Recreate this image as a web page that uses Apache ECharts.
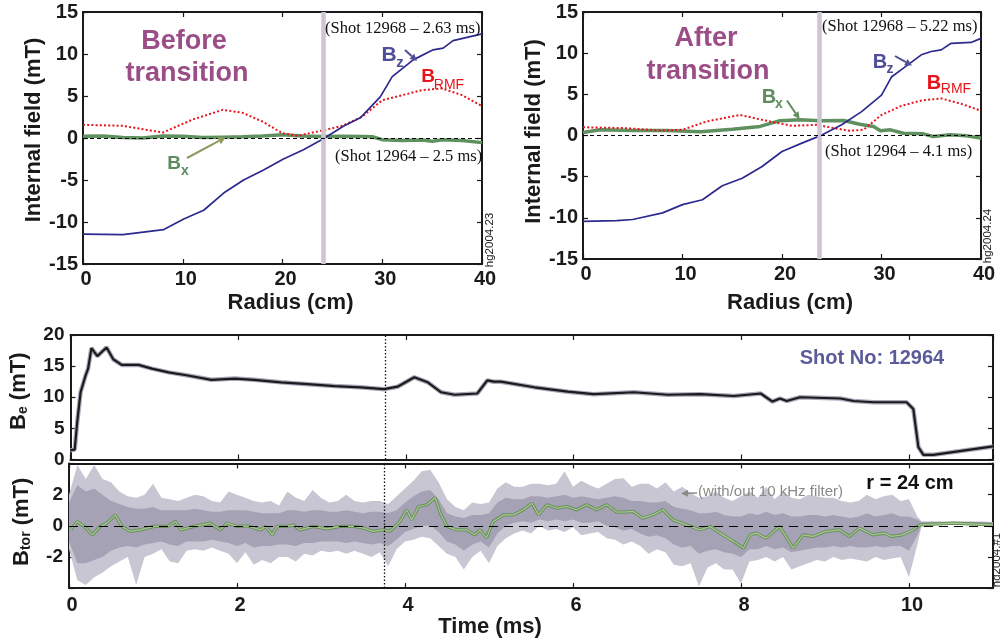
<!DOCTYPE html>
<html><head><meta charset="utf-8">
<script src="https://cdn.jsdelivr.net/npm/echarts/dist/echarts.min.js"></script>
<style>html,body{margin:0;padding:0;background:#fff}#c{width:1000px;height:639px}</style>
</head><body><div id="c"></div>
<script>
// ---- Top-left panel (before transition) ----
const bzR1 = [0,4,8.1,10.1,12.1,14.1,16.1,18.1,20.1,22.1,24.1,26.1,27.8,29.8,31,33.1,35.1,36.1,37.1,40];
const bz1  = [-11.45,-11.5,-10.9,-9.65,-8.6,-6.55,-5.0,-3.8,-2.5,-1.4,-0.1,1.4,2.4,4.9,7.3,9.3,10.5,10.7,11.6,12.4];
const rmfR1 = [0,4,8,11,14,16,18,20,21.5,24,26,28,30,32,34,36,38,40];
const rmf1  = [1.57,1.45,0.65,2.2,3.35,3.0,1.95,0.57,0.26,0.89,1.45,2.55,4.5,5.1,5.7,5.9,5.1,3.8];
const bxR1 = [0,2,4,6,8,10,12,14,16,18,20,22,24,26,28,29,30,32,34,35,36,38,40];
const bx1  = [0.2,0.25,0.05,0.0,0.25,0.2,0.05,0.1,0.15,0.25,0.38,0.25,0.18,0.2,0.18,0.15,-0.2,-0.3,-0.25,-0.4,-0.2,-0.3,-0.55];
// ---- Top-right panel (after transition) ----
const bzR2 = [0,3.4,5,8,10,12,14,16,18,20,22,24,26,28,30,31,32,34,35,36,37,39,40];
const bz2  = [-10.43,-10.35,-10.2,-9.4,-8.4,-7.8,-6.1,-5.2,-3.76,-1.94,-0.93,0.05,1.3,2.9,4.9,7.1,8.0,9.8,10.2,10.4,11.2,11.3,11.8];
const rmfR2 = [0,4,8,10,12.4,15.8,18,21,23.5,25.2,26.8,28.2,30,32,34,36,38,40];
const rmf2  = [1.0,0.9,0.6,0.7,1.7,2.5,1.9,1.17,1.3,0.9,0.57,0.7,2.5,3.6,4.25,4.5,3.85,3.0];
const bxR2 = [0,1.7,5,8.4,11.8,15,17.8,19.8,21.8,23.8,26.2,27.8,29.2,29.9,30.9,32.2,34.2,35.2,36.9,38.5,40];
const bx2  = [0.36,0.7,0.6,0.6,0.45,0.77,1.1,1.8,1.9,1.78,1.82,1.37,1.1,0.57,0.69,0.28,0.2,-0.12,0.08,-0.04,-0.32];
const sepR1 = 24.1, sepR2 = 23.7;
// ---- Bottom: Be(t) ----
const beT = [0,0.05,0.08,0.12,0.18,0.21,0.25,0.32,0.43,0.51,0.61,0.81,0.97,1.17,1.4,1.68,1.96,2.19,2.51,2.83,3.15,3.46,3.74,3.9,4.1,4.26,4.42,4.58,4.85,4.97,5.05,5.13,5.53,5.93,6.24,6.72,7.12,7.51,7.91,8.23,8.37,8.46,8.54,8.7,9.18,9.34,9.58,9.97,10.05,10.11,10.17,10.29,11];
const beV = [1.5,1.6,6.0,10.8,13.5,14.6,17.9,16.6,18.0,16.1,15.2,15.2,14.6,14.0,13.5,12.8,13.0,12.8,12.4,12.1,11.8,11.6,11.3,11.7,13.2,12.4,10.8,10.4,10.6,12.7,12.5,12.5,11.6,10.9,10.5,10.8,10.4,10.5,10.2,10.6,9.3,9.8,9.4,10.0,9.8,9.4,9.2,9.2,8.1,2.0,0.75,0.75,2.1];
// ---- Bottom: Btor(t) unfiltered: spike extent (up/lo) and dense core (coreUp/coreLo) ----
const btorT = [0,0.1,0.2,0.3,0.4,0.5,0.6,0.7,0.8,0.9,1.0,1.1,1.2,1.3,1.4,1.5,1.6,1.7,1.8,1.9,2.0,2.1,2.2,2.3,2.4,2.5,2.6,2.7,2.8,2.9,3.0,3.1,3.2,3.3,3.4,3.5,3.6,3.7,3.8,3.9,4.0,4.1,4.2,4.3,4.4,4.5,4.6,4.7,4.8,4.9,5.0,5.1,5.2,5.3,5.4,5.5,5.6,5.7,5.8,5.9,6.0,6.1,6.2,6.3,6.4,6.5,6.6,6.7,6.8,6.9,7.0,7.1,7.2,7.3,7.4,7.5,7.6,7.7,7.8,7.9,8.0,8.1,8.2,8.3,8.4,8.5,8.6,8.7,8.8,8.9,9.0,9.1,9.2,9.3,9.4,9.5,9.6,9.7,9.8,9.9,10.0,10.1,10.15,10.3,10.5,10.7,10.9,11];
const btorUp = [2.0,3.9,3.0,3.9,3.0,2.8,2.2,1.9,1.8,2.0,
  2.7,1.8,1.7,1.6,1.8,2.0,1.9,1.6,1.5,2.2,
  2.0,1.8,1.6,1.5,1.6,1.3,2.2,1.8,1.6,2.3,
  1.8,1.5,1.6,2.0,1.6,1.5,1.6,1.6,1.4,1.9,
  2.4,2.9,3.5,3.6,2.8,1.7,1.2,1.0,1.5,1.4,
  1.5,2.4,2.8,2.5,2.5,2.7,2.7,2.6,2.7,3.5,
  2.5,2.9,2.6,2.4,2.7,3.0,3.05,2.5,2.7,2.7,
  2.4,2.8,2.2,2.5,2.1,1.8,1.9,2.2,1.8,1.6,
  1.9,2.2,1.8,2.5,1.7,2.2,1.8,1.7,2.0,1.9,
  1.8,1.8,1.6,1.5,1.6,2.0,1.7,1.9,2.0,1.6,
  1.7,0.6,0.3,0.3,0.28,0.3,0.28,0.25];
const btorLo = [-1.5,-3.5,-3.8,-3.3,-3.0,-2.6,-2.3,-2.0,-3.8,-2.0,
  -1.8,-1.5,-2.3,-2.4,-1.6,-1.5,-1.6,-1.4,-1.6,-1.8,
  -2.4,-1.7,-2.5,-2.2,-2.4,-2.0,-2.0,-2.3,-1.8,-1.9,
  -1.6,-1.7,-1.6,-1.8,-1.6,-1.8,-2.0,-1.7,-2.6,-1.5,
  -1.0,-0.9,-0.7,-0.8,-1.3,-1.8,-2.0,-2.8,-2.0,-1.6,
  -2.4,-1.3,-0.8,-0.5,-0.3,-0.5,0.0,-0.3,-0.2,-0.4,
  -0.1,-0.6,-0.5,-0.4,-0.8,-0.9,-1.2,-1.0,-1.3,-1.8,
  -1.5,-1.7,-2.5,-2.6,-2.4,-3.9,-2.7,-2.4,-2.8,-2.8,
  -3.7,-2.3,-2.2,-2.0,-2.3,-2.0,-2.8,-2.6,-2.4,-2.2,
  -2.3,-2.0,-2.2,-2.1,-2.2,-2.3,-2.0,-2.2,-2.1,-2.0,
  -3.3,-1.2,0.0,0.05,0.05,0.05,0.05,0.05];
const coreUp = [1.5,2.6,2.2,2.4,2.0,1.6,1.4,1.2,1.1,1.1,
  1.2,1.0,1.0,1.0,1.0,1.1,1.0,0.9,0.9,1.0,
  1.0,1.0,0.9,0.8,0.8,0.8,1.0,1.0,0.9,1.0,
  1.0,0.9,0.9,1.0,0.9,0.8,0.9,0.9,0.8,1.0,
  1.5,1.9,2.2,2.3,1.7,0.8,0.6,0.5,0.7,0.7,
  0.8,1.5,1.8,1.7,1.7,1.9,1.9,1.8,1.9,2.0,
  1.8,1.9,1.8,1.7,1.8,1.9,1.8,1.6,1.6,1.5,
  1.5,1.6,1.2,1.1,1.0,0.8,0.8,0.9,0.7,0.6,
  0.6,0.8,0.7,0.9,0.7,0.8,0.6,0.6,0.7,0.7,
  0.6,0.7,0.6,0.5,0.6,0.8,0.6,0.7,0.8,0.6,
  0.6,0.4,0.25,0.25,0.24,0.25,0.24,0.22];
const coreLo = [-1.0,-2.4,-2.4,-2.2,-2.0,-1.6,-1.4,-1.3,-1.4,-1.2,
  -1.1,-1.0,-1.2,-1.3,-1.0,-1.0,-1.0,-0.9,-1.0,-1.1,
  -1.3,-1.1,-1.4,-1.3,-1.3,-1.2,-1.2,-1.3,-1.1,-1.1,
  -1.0,-1.0,-1.0,-1.1,-1.0,-1.1,-1.2,-1.1,-1.3,-0.9,
  -0.4,-0.2,0.0,0.0,-0.4,-1.0,-1.2,-1.6,-1.2,-1.0,
  -1.4,-0.5,0.0,0.2,0.3,0.2,0.4,0.3,0.4,0.3,
  0.4,0.2,0.2,0.3,0.0,-0.1,-0.3,-0.2,-0.5,-0.7,
  -0.6,-0.8,-1.2,-1.4,-1.3,-1.8,-1.6,-1.5,-1.7,-1.8,
  -2.0,-1.5,-1.5,-1.3,-1.5,-1.4,-1.7,-1.6,-1.5,-1.4,
  -1.4,-1.3,-1.4,-1.3,-1.4,-1.4,-1.3,-1.4,-1.3,-1.3,
  -1.6,-0.6,0.05,0.08,0.08,0.08,0.08,0.08];
// ---- Bottom: Btor(t) with 10 kHz filter ----
const filtT = [0.02,0.1,0.18,0.28,0.37,0.45,0.55,0.63,0.73,0.85,1.01,1.17,1.27,1.33,1.49,1.68,1.8,1.88,2.0,2.12,2.28,2.34,2.42,2.48,2.6,2.67,2.75,2.91,3.07,3.23,3.39,3.51,3.62,3.74,3.82,3.94,4.02,4.08,4.16,4.26,4.36,4.42,4.5,4.61,4.73,4.83,4.89,4.97,5.05,5.17,5.29,5.41,5.51,5.59,5.69,5.81,5.93,6.04,6.16,6.28,6.4,6.52,6.64,6.72,6.83,6.95,7.07,7.19,7.35,7.51,7.63,7.75,7.91,8.03,8.11,8.18,8.3,8.46,8.62,8.74,8.86,9.01,9.17,9.29,9.41,9.57,9.71,9.79,9.92,10.05,10.13,10.52,11];
const filtV = [-0.26,0.28,-0.04,-0.58,-0.04,0.17,0.7,-0.04,-0.36,-0.26,-0.04,-0.04,0.28,-0.26,-0.04,0.17,-0.26,0.17,-0.04,0.0,-0.26,-0.04,-0.58,-0.04,-0.04,0.06,-0.26,-0.04,-0.2,-0.04,-0.04,-0.15,-0.36,-0.26,-0.36,0.28,1.03,0.38,1.24,1.35,1.8,0.81,-0.04,-0.26,-0.26,-0.58,-0.26,-0.79,0.28,0.7,0.7,1.03,1.45,0.7,1.35,1.13,1.24,1.03,1.35,1.03,1.35,0.88,0.9,0.92,0.49,0.7,1.03,0.38,0.06,-0.26,-0.04,-0.47,-1.0,-1.43,-0.58,-0.47,-0.79,-0.04,-1.43,-0.58,-0.68,-0.36,-0.26,-0.68,-0.15,-0.58,-0.47,-0.68,-0.58,-0.26,0.06,0.17,0.06];
const tMark = 3.75;

const zip = (a,b) => a.map((v,i)=>[v,b[i]]);
const INK = '#1a1a1a';
const FONT = 'Liberation Sans';

function mkAxis(o){
  return {
    gridIndex:o.g, type:'value', min:o.min, max:o.max, interval:o.iv, position:o.pos,
    axisLine:{show:true, onZero:false, lineStyle:{color:INK, width:2}},
    axisTick:{show:true, inside:true, length:5, lineStyle:{color:INK, width:1.2}},
    axisLabel: o.label ? Object.assign({show:true, color:INK, fontFamily:FONT, fontWeight:'bold', fontSize:20, margin:6}, o.label) : {show:false},
    splitLine:{show:false},
    name:o.name||'', nameLocation:'middle', nameGap:o.gap||30,
    nameTextStyle:Object.assign({color:INK, fontFamily:FONT, fontWeight:'bold', fontSize:22}, o.nameStyle||{})
  };
}
const subRich = {
  b:{fontFamily:FONT, fontWeight:'bold', fontSize:22, color:INK},
  s:{fontFamily:FONT, fontWeight:'bold', fontSize:14, color:INK, padding:[9,0,0,0]}
};

const xAxis = [
  mkAxis({g:0,min:0,max:40,iv:10,pos:'bottom',label:{padding:[0,0,0,6],margin:5},name:'Radius (cm)',gap:28,nameStyle:{padding:[0,0,0,16]}}),
  mkAxis({g:0,min:0,max:40,iv:10,pos:'top'}),
  mkAxis({g:1,min:0,max:40,iv:10,pos:'bottom',label:{padding:[0,0,0,6],margin:5},name:'Radius (cm)',gap:33,nameStyle:{padding:[0,0,0,16]}}),
  mkAxis({g:1,min:0,max:40,iv:10,pos:'top'}),
  mkAxis({g:2,min:0,max:11,iv:2,pos:'bottom'}),
  mkAxis({g:2,min:0,max:11,iv:2,pos:'top'}),
  mkAxis({g:3,min:0,max:11,iv:2,pos:'bottom',label:{padding:[0,0,0,6],margin:7,fontSize:20,formatter:v=>v===11?'':String(v)},name:'Time (ms)',gap:25,nameStyle:{padding:[0,82,0,0]}}),
  mkAxis({g:3,min:0,max:11,iv:2,pos:'top'})
];
const yAxis = [
  mkAxis({g:0,min:-15,max:15,iv:5,pos:'left',label:{margin:5},name:'Internal field (mT)',gap:37,nameStyle:{padding:[0,0,0,16]}}),
  mkAxis({g:0,min:-15,max:15,iv:5,pos:'right'}),
  mkAxis({g:1,min:-15,max:15,iv:5,pos:'left',label:{margin:5},name:'Internal field (mT)',gap:34,nameStyle:{padding:[0,0,0,8]}}),
  mkAxis({g:1,min:-15,max:15,iv:5,pos:'right'}),
  mkAxis({g:2,min:0,max:20,iv:5,pos:'left',label:{margin:6,fontSize:19},name:'{b|B}{s|e}{b| (mT)}',gap:40,nameStyle:{padding:[0,0,0,12],rich:subRich}}),
  mkAxis({g:2,min:0,max:20,iv:5,pos:'right'}),
  mkAxis({g:3,min:-4,max:4,iv:2,pos:'left',label:{margin:6,fontSize:19,formatter:v=>Math.abs(v)===4?'':String(v)},name:'{b|B}{s|tor}{b| (mT)}',gap:36,nameStyle:{padding:[0,0,0,8],rich:subRich}}),
  mkAxis({g:3,min:-4,max:4,iv:2,pos:'right'})
];

function line(xi, data, color, width, type, z){
  return {type:'line', xAxisIndex:xi, yAxisIndex:xi, data, symbol:'none', silent:true, z:z||3,
    lineStyle:{color, width, type:type||'solid'}};
}
function helper(xi, marks){
  return {type:'line', xAxisIndex:xi, yAxisIndex:xi, data:[], silent:true, z:1,
    markLine:{silent:true, symbol:'none', label:{show:false}, animation:false, data:marks}};
}
function band(lo, up, fill, z){
  return {type:'custom', xAxisIndex:6, yAxisIndex:6, data:[[0,0]], silent:true, z,
    renderItem:(params, api)=>{
      const pts=[];
      for(let i=0;i<btorT.length;i++) pts.push(api.coord([btorT[i], up[i]]));
      for(let i=btorT.length-1;i>=0;i--) pts.push(api.coord([btorT[i], lo[i]]));
      return {type:'polygon', shape:{points:pts}, style:{fill}};
    }};
}
const zeroDash = (dash)=>({yAxis:0, lineStyle:{color:'#000', width:1, type:dash}});
const sepBar = (r)=>({xAxis:r, lineStyle:{color:'#cfc3d4', width:4.5, type:'solid'}});
const dotV = {xAxis:tMark, lineStyle:{color:'#111', width:1.3, type:[1.5,2]}};

const series = [
  helper(0,[sepBar(sepR1), zeroDash([4,3])]),
  line(0, zip(bxR1,bx1), '#5f905f', 3.5),
  line(0, zip(rmfR1,rmf1), '#e8141c', 2, [2,2.2]),
  line(0, zip(bzR1,bz1), '#2c2a8e', 1.7),
  helper(2,[sepBar(sepR2), zeroDash([4,3])]),
  line(2, zip(bxR2,bx2), '#5f905f', 3.5),
  line(2, zip(rmfR2,rmf2), '#e8141c', 2, [2,2.2]),
  line(2, zip(bzR2,bz2), '#2c2a8e', 1.7),
  helper(4,[dotV]),
  line(4, zip(beT,beV), '#aaa7ba', 4.5, 'solid', 2),
  line(4, zip(beT,beV), '#1b1b1b', 2.2),
  band(btorLo, btorUp, '#c9c6d3', 1),
  band(coreLo, coreUp, '#a6a2b5', 1),
  Object.assign(helper(6,[zeroDash([9,6]), dotV]), {z:2}),
  line(6, zip(filtT,filtV), '#6a8e5c', 3.2, 'solid', 3),
  line(6, zip(filtT,filtV), '#a6c892', 1.2, 'solid', 4)
];

function txt(x,y,text,font,fill,align){
  return {type:'text', x, y, silent:true, z:100,
    style:{text, font, fill, textAlign:align||'center', textVerticalAlign:'middle', align:align||'center', verticalAlign:'middle'}};
}
function arrow(x1,y1,x2,y2,color,w,hl){
  const a=Math.atan2(y2-y1,x2-x1), hw=hl*0.5;
  const bx=x2-hl*Math.cos(a), by=y2-hl*Math.sin(a);
  return [
    {type:'line', silent:true, z:100, shape:{x1,y1,x2:bx,y2:by}, style:{stroke:color,lineWidth:w}},
    {type:'polygon', silent:true, z:100, shape:{points:[[x2,y2],[bx+hw*Math.sin(a),by-hw*Math.cos(a)],[bx-hw*Math.sin(a),by+hw*Math.cos(a)]]}, style:{fill:color}}
  ];
}
const TITLE = 'bold 27px "Liberation Sans"';
const SERIF = '16.5px "Liberation Serif"';
const BZC = '#4f4f97', RMFC = '#e8141c', BXC = '#5e8c5e';
const graphic = [
  txt(184,42,'Before',TITLE,'#9b4d87'),
  txt(187,74,'transition',TITLE,'#9b4d87'),
  txt(706,39,'After',TITLE,'#9b4d87'),
  txt(708,72,'transition',TITLE,'#9b4d87'),
  txt(325,29,'(Shot 12968 \u2013 2.63 ms)',SERIF,'#111','left'),
  txt(335,157,'(Shot 12964 \u2013 2.5 ms)',SERIF,'#111','left'),
  txt(822,27,'(Shot 12968 \u2013 5.22 ms)',SERIF,'#111','left'),
  txt(825,152,'(Shot 12964 \u2013 4.1 ms)',SERIF,'#111','left'),
  txt(389,55,'B','bold 21px "Liberation Sans"',BZC), txt(400,63,'z','bold 15px "Liberation Sans"',BZC),
  ...arrow(405,50,417,61,BZC,2,7),
  txt(428,77,'B','bold 19px "Liberation Sans"',RMFC), txt(449,85,'RMF','14px "Liberation Sans"',RMFC),
  txt(174,164,'B','bold 19px "Liberation Sans"',BXC), txt(185,171,'x','bold 14px "Liberation Sans"',BXC),
  ...arrow(187,158,226,137,'#8d9a5e',2,8),
  txt(880,62,'B','bold 20px "Liberation Sans"',BZC), txt(890,69,'z','bold 14px "Liberation Sans"',BZC),
  ...arrow(895,56,912,65.5,BZC,2,7),
  txt(934,83,'B','bold 20px "Liberation Sans"',RMFC), txt(956,89,'RMF','14px "Liberation Sans"',RMFC),
  txt(769,97,'B','bold 20px "Liberation Sans"',BXC), txt(779,104,'x','bold 14px "Liberation Sans"',BXC),
  ...arrow(787,100.5,799.5,119,BXC,2,7),
  txt(872,358,'Shot No: 12964','bold 20px "Liberation Sans"','#5b5b9b'),
  txt(910,483,'r = 24 cm','bold 20px "Liberation Sans"','#111'),
  txt(698,492,'(with/out 10 kHz filter)','15px "Liberation Sans"','#8c8a88','left'),
  ...arrow(697,493,681,493.5,'#8c8a88',1.5,7),
  Object.assign(txt(490,240,'hg2004.23','11.5px "Liberation Sans"','#222'),{rotation:Math.PI/2}),
  Object.assign(txt(988,236,'hg2004.24','11.5px "Liberation Sans"','#222'),{rotation:Math.PI/2}),
  Object.assign(txt(997,560,'hg2004.#1','11.5px "Liberation Sans"','#222'),{rotation:Math.PI/2})
];

const chart = echarts.init(document.getElementById('c'), null, {renderer:'canvas'});
chart.setOption({
  animation:false,
  backgroundColor:'#fff',
  grid:[
    {left:83, top:12, width:399, height:252},
    {left:583, top:12, width:398, height:247},
    {left:69, top:335, width:924, height:124.5},
    {left:69, top:463.5, width:924, height:125}
  ],
  xAxis, yAxis, series, graphic
});
</script></body></html>
